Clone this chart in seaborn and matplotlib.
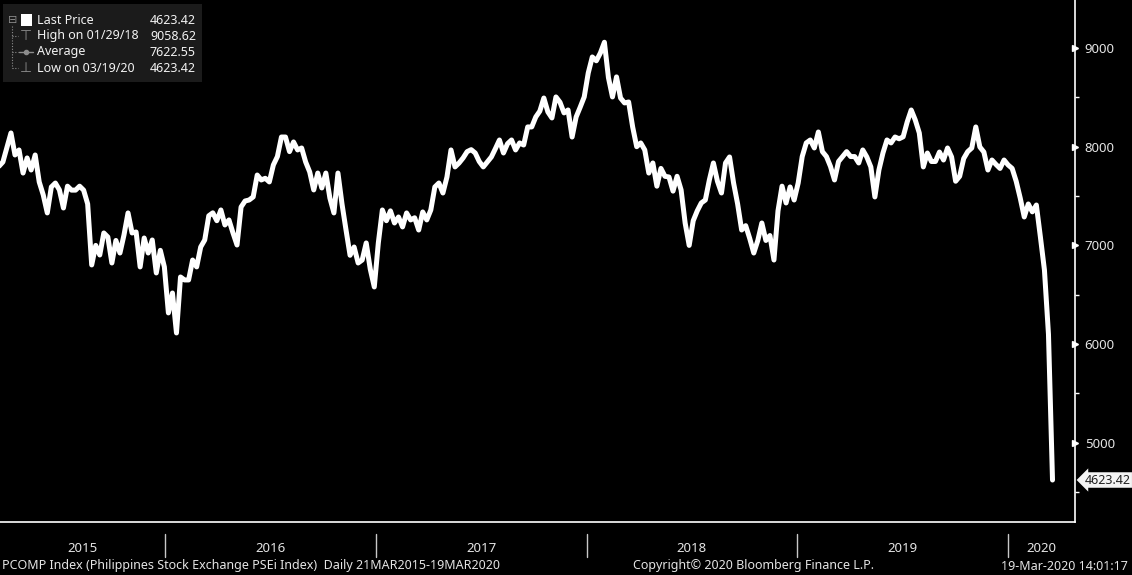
import pandas as pd
import seaborn as sns
import matplotlib.pyplot as plt
import matplotlib.dates as mdates
import matplotlib.ticker as mticker
import matplotlib.transforms as mtransforms
from matplotlib.patches import Rectangle

# ---------------------------------------------------------------
# Data: PSEi weekly closes
# (one value per week, last one = 19 Mar 2020)
# ---------------------------------------------------------------
last_date = "2020-03-19"
psei = [
    7800, 7845, 7990, 8139, 7916, 7967, 7733, 7886, 7764, 7916,
    7643, 7511, 7329, 7592, 7632, 7562, 7379, 7600, 7560, 7560,
    7600, 7560, 7420, 6802, 7000, 6903, 7126, 7085, 6822, 7050,
    6923, 7106, 7329, 7126, 7136, 6782, 7075, 6923, 7055, 6721,
    6950, 6782, 6316, 6518, 6113, 6680, 6650, 6650, 6852, 6782,
    6984, 7055, 7300, 7330, 7250, 7359, 7207, 7258, 7126, 7004,
    7389, 7450, 7460, 7491, 7713, 7663, 7680, 7643, 7815, 7900,
    8098, 8098, 7950, 8048, 7967, 7987, 7845, 7744, 7562, 7733,
    7582, 7733, 7480, 7329, 7733, 7420, 7156, 6900, 6984, 6822,
    6852, 7025, 6760, 6579, 7025, 7359, 7250, 7350, 7227, 7288,
    7187, 7329, 7258, 7280, 7156, 7339, 7258, 7359, 7592, 7632,
    7531, 7693, 7967, 7795, 7835, 7886, 7950, 7970, 7936, 7850,
    7795, 7845, 7896, 7980, 8068, 7936, 8030, 8068, 7967, 8038,
    8017, 8200, 8200, 8301, 8360, 8493, 8352, 8291, 8504, 8450,
    8342, 8372, 8098, 8301, 8400, 8504, 8747, 8909, 8870, 8949,
    9058, 8700, 8504, 8707, 8493, 8443, 8453, 8200, 8000, 8038,
    7967, 7733, 7835, 7600, 7780, 7700, 7693, 7550, 7700, 7562,
    7227, 7000, 7250, 7350, 7430, 7460, 7663, 7835, 7650, 7531,
    7835, 7896, 7632, 7420, 7156, 7200, 7070, 6923, 7050, 7227,
    7050, 7100, 6852, 7350, 7600, 7430, 7592, 7460, 7632, 7900,
    8038, 8068, 7987, 8149, 7950, 7900, 7800, 7663, 7850, 7900,
    7950, 7900, 7900, 7835, 7967, 7896, 7795, 7491, 7764, 7936,
    8068, 8038, 8098, 8080, 8100, 8250, 8372, 8271, 8139, 7795,
    7936, 7850, 7850, 7946, 7865, 7987, 7896, 7650, 7700, 7880,
    7950, 7987, 8200, 7997, 7946, 7764, 7865, 7820, 7780, 7865,
    7815, 7780, 7650, 7480, 7288, 7420, 7340, 7409, 7085, 6751,
    6100, 4623.42,
]

x_start, x_end = "2015-03-21", "2020-04-27"
y_min, y_max = 4198, 9486
y_major = [5000, 6000, 7000, 8000, 9000]
y_minor = [4500, 5500, 6500, 7500, 8500]
years = [2015, 2016, 2017, 2018, 2019, 2020]

legend_rows = [
    ("Last Price", "4623.42"),
    ("High on 01/29/18", "9058.62"),
    ("Average", "7622.55"),
    ("Low on 03/19/20", "4623.42"),
]
footer_left = "PCOMP Index (Philippines Stock Exchange PSEi Index)  Daily 21MAR2015-19MAR2020"
footer_mid = "Copyright\u00a9 2020 Bloomberg Finance L.P."
footer_right = "19-Mar-2020 14:01:17"

df = pd.DataFrame({
    "date": pd.date_range(end=last_date, periods=len(psei), freq="7D"),
    "close": psei,
})

# ---------------------------------------------------------------
# Style
# ---------------------------------------------------------------
sns.set_theme(style="dark", rc={"axes.facecolor": "black",
                                "figure.facecolor": "black",
                                "savefig.facecolor": "black"})
plt.rcParams["font.family"] = ["Noto Sans", "DejaVu Sans"]
TXT = "#e4e4e4"

W, H = 1132, 575
fig = plt.figure(figsize=(W / 100, H / 100), dpi=100)
ax = fig.add_axes([0, 1 - 522 / H, 1075 / W, 522 / H])

sns.lineplot(data=df, x="date", y="close", ax=ax, color="white",
             linewidth=3.6, legend=False)

ax.set_xlim(pd.Timestamp(x_start), pd.Timestamp(x_end))
ax.set_ylim(y_min, y_max)
ax.set_xlabel("")
ax.set_ylabel("")
ax.grid(False)

for side in ["top", "left"]:
    ax.spines[side].set_visible(False)
for side in ["right", "bottom"]:
    ax.spines[side].set_visible(True)
    ax.spines[side].set_color("white")
    ax.spines[side].set_linewidth(1.2)

# y axis on the right
ax.yaxis.tick_right()
ax.yaxis.set_major_locator(mticker.FixedLocator(y_major))
ax.yaxis.set_minor_locator(mticker.FixedLocator(y_minor))
ax.tick_params(axis="y", which="major", colors="white", labelcolor=TXT,
               labelsize=9.5, length=4, width=1, pad=3)
ax.tick_params(axis="y", which="minor", colors="white", length=3, width=1,
               left=False, right=True)
for t in ax.yaxis.get_major_ticks():
    t.tick2line.set_marker(">")
    t.tick2line.set_markersize(5)
    t.tick2line.set_markerfacecolor("white")
    t.tick2line.set_markeredgecolor("white")

# x axis: monthly ticks, year labels centred in each span
ax.xaxis.set_major_locator(mdates.MonthLocator())
ax.xaxis.set_major_formatter(mticker.NullFormatter())
ax.xaxis.set_minor_locator(mticker.NullLocator())
ax.tick_params(axis="x", which="major", direction="out", colors="white",
               length=4, width=1, labelbottom=False)

blend = mtransforms.blended_transform_factory(ax.transData, fig.transFigure)
lo, hi = pd.Timestamp(x_start), pd.Timestamp(x_end)
for yr in years:
    a = max(pd.Timestamp(f"{yr}-01-01"), lo)
    b = min(pd.Timestamp(f"{yr + 1}-01-01"), hi)
    mid = a + (b - a) / 2
    ax.text(mid, 26 / H, str(yr), transform=blend, ha="center",
            va="center", color=TXT, fontsize=9.5)
    if yr > years[0]:
        sep = pd.Timestamp(f"{yr}-01-01")
        ax.plot([sep, sep], [18 / H, 41 / H], transform=blend,
                color="#c8c8c8", lw=1, clip_on=False)

# last price tag
ax.annotate(legend_rows[0][1], xy=(1, psei[-1]),
            xycoords=("axes fraction", "data"), xytext=(7, 0),
            textcoords="offset points", ha="left", va="center",
            fontsize=9, color="#222222", annotation_clip=False,
            bbox=dict(boxstyle="larrow,pad=0.1", fc="#f4f4f4", ec="none"))

# footer
fy = 9 / H
fig.text(2 / W, fy, footer_left, color=TXT, fontsize=9, ha="left", va="center")
fig.text(633 / W, fy, footer_mid, color=TXT, fontsize=9, ha="left", va="center")
fig.text(1128 / W, fy, footer_right, color=TXT, fontsize=9, ha="right", va="center")

# ---------------------------------------------------------------
# Legend panel (top left)
# ---------------------------------------------------------------
def px(x):
    return x / W


def py(y):
    return 1 - y / H


fig.patches.append(Rectangle((px(3), py(82)), 199 / W, 78 / H,
                             transform=fig.transFigure, fc="#1b1b1b",
                             ec="none", zorder=5))
row_y = [20, 36, 52, 68]
grey = "#8c8c8c"
fig.text(px(13), py(row_y[0]), "\u229f", color=grey, fontsize=8,
         ha="center", va="center", family="DejaVu Sans", zorder=6)
fig.lines.append(plt.Line2D([px(12), px(12)], [py(26), py(row_y[-1])],
                            transform=fig.transFigure, color=grey, lw=0.8,
                            ls=(0, (1, 1.5)), zorder=6))
for yy in row_y[1:]:
    fig.lines.append(plt.Line2D([px(12), px(18)], [py(yy), py(yy)],
                                transform=fig.transFigure, color=grey,
                                lw=0.8, ls=(0, (1, 1.5)), zorder=6))
fig.patches.append(Rectangle((px(21), py(26)), 11 / W, 12 / H,
                             transform=fig.transFigure, fc="white",
                             ec="none", zorder=6))
fig.text(px(26), py(row_y[1]), "\u22a4", color=grey, fontsize=10,
         ha="center", va="center", family="DejaVu Sans", zorder=6)
fig.lines.append(plt.Line2D([px(19), px(33)], [py(row_y[2]), py(row_y[2])],
                            transform=fig.transFigure, color=grey, lw=1,
                            zorder=6))
fig.lines.append(plt.Line2D([px(26)], [py(row_y[2])],
                            transform=fig.transFigure, color=grey,
                            marker="o", markersize=3, zorder=6))
fig.text(px(26), py(row_y[3]), "\u22a5", color=grey, fontsize=10,
         ha="center", va="center", family="DejaVu Sans", zorder=6)
for (label, val), yy in zip(legend_rows, row_y):
    fig.text(px(37), py(yy), label, color="#f2f2f2", fontsize=9,
             ha="left", va="center", zorder=6)
    fig.text(px(196), py(yy), val, color="#f2f2f2", fontsize=9,
             ha="right", va="center", zorder=6)

fig.savefig("out.png", dpi=100, facecolor="black")
